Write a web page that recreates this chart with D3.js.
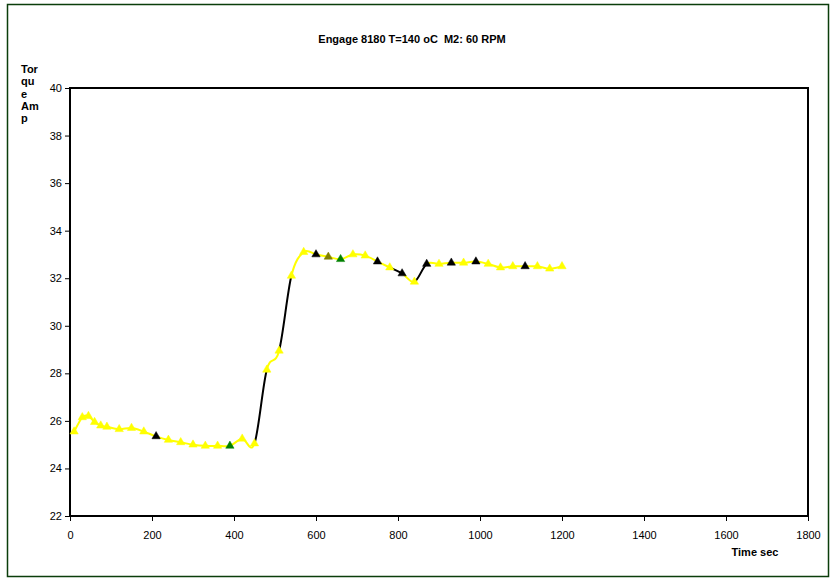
<!DOCTYPE html>
<html>
<head>
<meta charset="utf-8">
<script src="https://cdn.jsdelivr.net/npm/d3@7/dist/d3.min.js"></script>
<style>
  html, body { margin: 0; padding: 0; background: #fff; }
  svg { display: block; font-family: "Liberation Sans", Arial, sans-serif; }
</style>
</head>
<body>
<svg id="chart" width="832" height="580"></svg>
<script>
// Torque readings of one run (time in seconds, torque in amp)
const times = [10, 30, 45, 60, 75, 90, 120, 150, 180, 210, 240, 270, 300, 330, 360, 390,
  420, 450, 480, 510, 540, 570, 600, 630, 660, 690, 720, 750, 780, 810, 840, 870, 900,
  930, 960, 990, 1020, 1050, 1080, 1110, 1140, 1170, 1200];
const torque = [25.55, 26.15, 26.2, 25.95, 25.8, 25.75, 25.65, 25.7, 25.55, 25.35, 25.2,
  25.1, 25.0, 24.95, 24.95, 24.95, 25.25, 25.05, 28.15, 28.95, 32.1, 33.1, 33.0, 32.9,
  32.8, 33.0, 32.95, 32.7, 32.45, 32.2, 31.85, 32.6, 32.6, 32.65, 32.65, 32.7, 32.6,
  32.45, 32.5, 32.5, 32.5, 32.4, 32.5];
// Point class for each reading: n = normal, s = sampled, g = grab, o = other
const pointClass = ["n","n","n","n","n","n","n","n","n","s","n","n","n","n","n","g",
  "n","n","n","n","n","n","s","o","g","n","n","s","n","s","n","s","n","s","n","s","n",
  "n","n","s","n","n","n"];
// Segment class for the stretch of line that ends at each reading
const segmentClass = ["n","n","n","n","n","n","n","n","n","n","n","n","n","n","n","n",
  "n","n","s","n","s","n","n","n","n","n","n","n","n","s","n","s","n","n","n","n","n",
  "n","n","n","n","n","n"];
const xTicks = [0, 200, 400, 600, 800, 1000, 1200, 1400, 1600, 1800];
const yTicks = [22, 24, 26, 28, 30, 32, 34, 36, 38, 40];
const titleText = "Engage 8180 T=140 oC  M2: 60 RPM";
const yTitleLines = ["Tor", "qu", "e", "Am", "p"];
const xTitleText = "Time sec";

const markerFill = { n: "#ffff00", s: "#000000", g: "#008000", o: "#808000" };
const lineStroke = { n: "#ffff00", s: "#000000" };

const svg = d3.select("#chart");
const plot = { left: 70, right: 808, top: 88, bottom: 516 };

// outer frame
svg.append("rect")
  .attr("x", 7.5).attr("y", 4.5).attr("width", 821).attr("height", 572)
  .attr("fill", "#fff").attr("stroke", "#0b3d0b").attr("stroke-width", 1.5);

const x = d3.scaleLinear().domain([0, 1800]).range([plot.left, plot.right]);
const y = d3.scaleLinear().domain([22, 40]).range([plot.bottom, plot.top]);

// axes
const xAxis = d3.axisBottom(x).tickValues(xTicks).tickFormat(d3.format("d"))
  .tickSize(5).tickSizeOuter(0).tickPadding(10);
const yAxis = d3.axisLeft(y).tickValues(yTicks).tickFormat(d3.format("d"))
  .tickSize(5).tickSizeOuter(0).tickPadding(3);

const gx = svg.append("g").attr("transform", `translate(0,${plot.bottom})`).call(xAxis);
const gy = svg.append("g").attr("transform", `translate(${plot.left},0)`).call(yAxis);
[gx, gy].forEach(g => {
  g.select(".domain").remove();
  g.selectAll(".tick line").attr("stroke", "#000").attr("stroke-width", 1);
  g.selectAll(".tick text").attr("fill", "#000")
    .style("font-size", "11px").style("font-family", "'Liberation Sans', Arial, sans-serif");
});

// plot border
svg.append("rect")
  .attr("x", plot.left).attr("y", plot.top)
  .attr("width", plot.right - plot.left).attr("height", plot.bottom - plot.top)
  .attr("fill", "none").attr("stroke", "#000").attr("stroke-width", 2);

// smoothed line, drawn one segment at a time so each stretch keeps its own colour
const pts = times.map((t, i) => [x(t), y(torque[i])]);
const segG = svg.append("g");
for (let i = 1; i < pts.length; i++) {
  const p0 = pts[Math.max(i - 2, 0)], p1 = pts[i - 1], p2 = pts[i], p3 = pts[Math.min(i + 1, pts.length - 1)];
  const c1 = [p1[0] + (p2[0] - p0[0]) / 6, p1[1] + (p2[1] - p0[1]) / 6];
  const c2 = [p2[0] - (p3[0] - p1[0]) / 6, p2[1] - (p3[1] - p1[1]) / 6];
  const path = d3.path();
  path.moveTo(p1[0], p1[1]);
  path.bezierCurveTo(c1[0], c1[1], c2[0], c2[1], p2[0], p2[1]);
  segG.append("path")
    .attr("d", path.toString())
    .attr("fill", "none")
    .attr("stroke", lineStroke[segmentClass[i]])
    .attr("stroke-width", 2)
    .attr("stroke-linecap", "round");
}

// triangle markers
const tri = d3.symbol().type(d3.symbolTriangle).size(30);
svg.append("g").selectAll("path")
  .data(times.map((t, i) => ({ t, v: torque[i], c: pointClass[i] })))
  .join("path")
  .attr("d", tri)
  .attr("transform", d => `translate(${x(d.t)},${y(d.v)})`)
  .attr("fill", d => markerFill[d.c])
  .attr("stroke", d => markerFill[d.c])
  .attr("stroke-width", 0.5);

// title
svg.append("text")
  .attr("x", 412).attr("y", 43)
  .attr("text-anchor", "middle")
  .style("font-size", "11px").style("font-weight", "bold")
  .style("white-space", "pre")
  .attr("xml:space", "preserve")
  .text(titleText);

// y-axis title, stacked
svg.append("text")
  .attr("x", 21).attr("y", 73)
  .style("font-size", "11px").style("font-weight", "bold")
  .selectAll("tspan")
  .data(yTitleLines)
  .join("tspan")
  .attr("x", 21)
  .attr("dy", (d, i) => i === 0 ? 0 : 12.3)
  .text(d => d);

// x-axis title
svg.append("text")
  .attr("x", 755).attr("y", 556)
  .attr("text-anchor", "middle")
  .style("font-size", "11px").style("font-weight", "bold")
  .text(xTitleText);
</script>
</body>
</html>
